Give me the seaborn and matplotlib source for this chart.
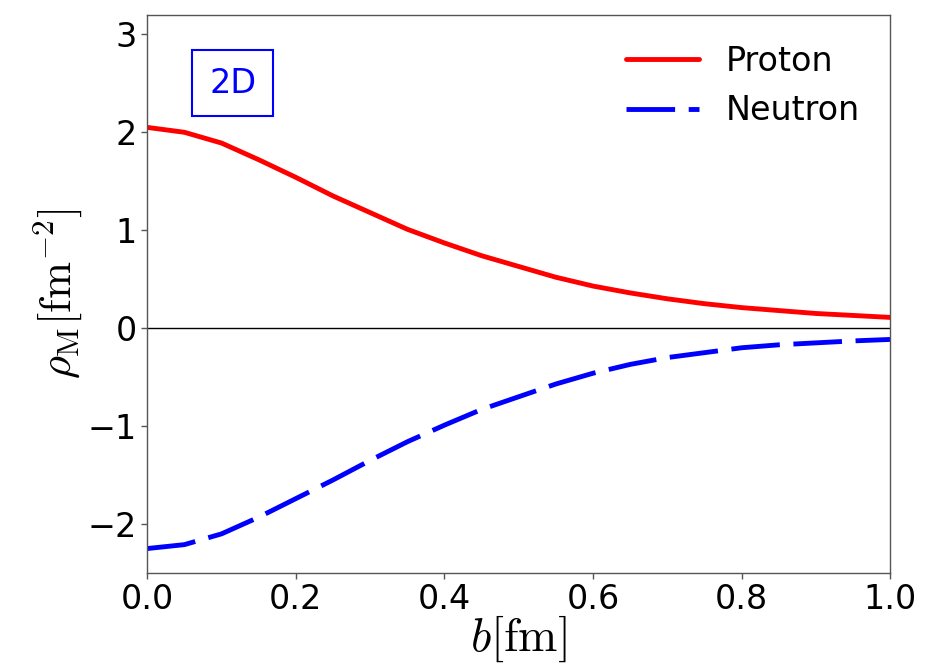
import numpy as np
import pandas as pd
import matplotlib
matplotlib.use("Agg")
import matplotlib.pyplot as plt
import seaborn as sns

b = [0.0, 0.05, 0.10, 0.15, 0.20, 0.25, 0.30, 0.35, 0.40, 0.45, 0.50,
     0.55, 0.60, 0.65, 0.70, 0.75, 0.80, 0.85, 0.90, 0.95, 1.00]
proton = [2.05, 2.00, 1.89, 1.72, 1.54, 1.35, 1.18, 1.01, 0.87, 0.74, 0.63,
          0.52, 0.43, 0.36, 0.30, 0.25, 0.21, 0.18, 0.15, 0.13, 0.11]
neutron = [-2.25, -2.21, -2.10, -1.93, -1.74, -1.55, -1.35, -1.16, -0.99, -0.83, -0.70,
           -0.57, -0.46, -0.37, -0.30, -0.25, -0.20, -0.17, -0.15, -0.13, -0.115]
xticks = [0.0, 0.2, 0.4, 0.6, 0.8, 1.0]
yticks = [-2, -1, 0, 1, 2, 3]

sns.set_style("ticks")
plt.rcParams['font.family'] = ['DejaVu Sans']
plt.rcParams['mathtext.fontset'] = 'cm'
plt.rcParams['text.color'] = 'black'
plt.rcParams['axes.labelcolor'] = 'black'
plt.rcParams['xtick.color'] = 'black'
plt.rcParams['ytick.color'] = 'black'

df = pd.DataFrame({"b": b, "Proton": proton, "Neutron": neutron})

fig = plt.figure(figsize=(9.44, 6.71), dpi=100)
ax = fig.add_axes([0.156, 0.146, 0.787, 0.832])

ax.axhline(0, color='black', lw=1.0, zorder=1)
sns.lineplot(data=df, x="b", y="Proton", ax=ax, color='red', linewidth=3.5,
             label='Proton')
sns.lineplot(data=df, x="b", y="Neutron", ax=ax, color='blue', linewidth=3.5,
             linestyle=(0, (10, 2.8)), label='Neutron')

ax.set_xlim(0, 1.0)
ax.set_ylim(-2.5, 3.2)
ax.set_xticks(xticks)
ax.set_yticks(yticks)
ax.tick_params(labelsize=24, length=4, width=1, color='#555555', labelcolor='black')
for s in ax.spines.values():
    s.set_color('#555555')
    s.set_linewidth(1.0)

ax.set_xlabel(r'$b[{\rm fm}]$', fontsize=34, labelpad=-2)
ax.set_ylabel(r'$\rho_{\rm M}[{\rm fm}^{-2}]$', fontsize=32, labelpad=2)

ax.text(0.115, 2.5, '2D', color='blue', fontsize=24, ha='center', va='center',
        bbox=dict(boxstyle='square,pad=0.5', fc='white', ec='blue', lw=1.5))

leg = ax.legend(loc='upper right', fontsize=24, frameon=False, handlelength=2.2)

fig.savefig("out.png", dpi=100)
